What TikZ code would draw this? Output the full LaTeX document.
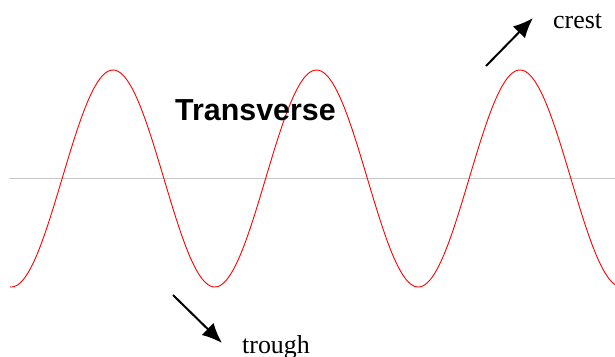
\documentclass[tikz,border=0pt]{standalone}
\usepackage{fontspec}
\setmainfont{Liberation Serif}
\newfontfamily\headfont{Liberation Sans}
\usetikzlibrary{arrows.meta}
\begin{document}
\begin{tikzpicture}[x=1bp,y=-1bp,
  wave/.style={draw=red, line width=0.9bp},
  axisline/.style={draw={rgb,255:red,200;green,200;blue,200}, line width=1.3bp},
  pointer/.style={draw=black, line width=2bp, -{Latex[length=20bp,width=17bp]}},
  lbl/.style={font=\fontsize{26}{30}\selectfont, inner sep=0pt},
  title/.style={font=\headfont\bfseries\fontsize{30.5}{34}\selectfont, inner sep=0pt}]
\useasboundingbox (0,0) rectangle (615,356);
\draw[axisline] (9,178.5) -- (615,178.5);
\draw[wave] plot[domain=10:615, samples=300, smooth] (\x, {178.5-108.5*cos(1.769042*(\x-113))});
\node[title, anchor=base west] (title) at (175,120) {Transverse};
\node[lbl, anchor=base west] (crest) at (553,28) {crest};
\node[lbl, anchor=base west] (trough) at (242,353) {trough};
\coordinate (c0) at (486,66);
\coordinate (c1) at (533,18);
\coordinate (t0) at (173,295);
\coordinate (t1) at (222,343);
\draw[pointer] (c0) -- (c1);
\draw[pointer] (t0) -- (t1);
\end{tikzpicture}
\end{document}
